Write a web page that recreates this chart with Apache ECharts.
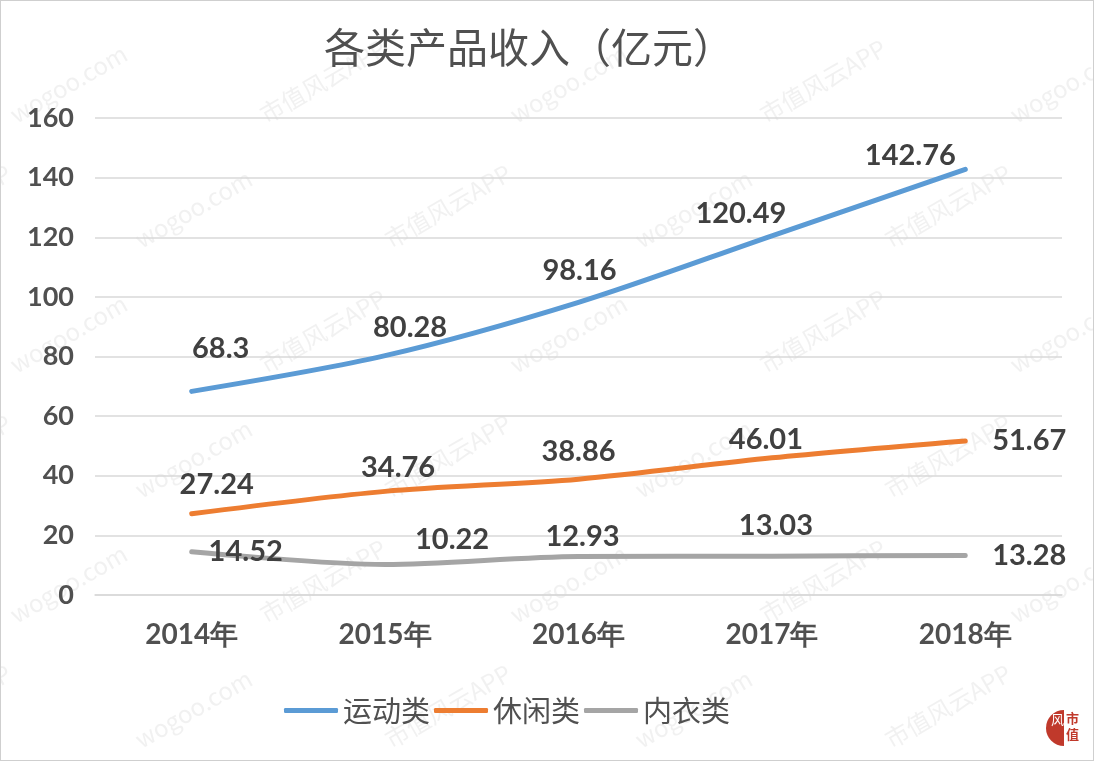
<!DOCTYPE html>
<html><head><meta charset="utf-8">
<script src="https://cdn.jsdelivr.net/npm/echarts@6/dist/echarts.min.js"></script>
<style>html,body{margin:0;padding:0;background:#fff;}#c{width:1094px;height:761px;box-sizing:border-box;border:1px solid #cfcfcf;}</style>
</head><body><div id="c"></div>
<script>
const categories = ['2014年','2015年','2016年','2017年','2018年'];
const sportValues = [68.3, 80.28, 98.16, 120.49, 142.76];
const leisureValues = [27.24, 34.76, 38.86, 46.01, 51.67];
const underwearValues = [14.52, 10.22, 12.93, 13.03, 13.28];
const seriesNames = ['运动类','休闲类','内衣类'];
const titleText = '各类产品收入（亿元）';
const watermarkTexts = ['市值风云APP','wogoo.com'];

// label offsets (style only)
const sportOffsets = [[29,-43],[25,-28],[1,-32],[-31,-22],[-55,-14]];
const leisureOffsets = [[25,-29],[13,-24],[0,-28],[-6,-18],[64,0]];
const underOffsets = [[54,0],[67,-25],[4,-20],[4,-31],[64,0]];

const chart = echarts.init(document.getElementById('c'));
const labelFont = {fontFamily:'Lato', fontWeight:'bold', fontSize:29, color:'#404040'};
function mk(vals, offs){
  return vals.map((v,i)=>({value:v, label:{show:true, position:'inside', offset:offs[i], align:'center', verticalAlign:'middle', ...labelFont}}));
}
const colors = ['#5B9BD5','#ED7D31','#A5A5A5'];
function series(name, vals, offs, color){
  return {name, type:'line', data:mk(vals,offs), smooth:0.3, symbol:'circle', symbolSize:0, showSymbol:true,
    lineStyle:{width:5, color, cap:'round'}, itemStyle:{color}, z:3,
    label:{show:true}};
}
// faint diagonal watermark
const wm = [];
let r = 0;
for (let y = -20; y < 800; y += 125, r++) {
  let c = 0;
  for (let x = -120 + (r % 2) * 125; x < 1150; x += 250, c++) {
    const t = watermarkTexts[(c + r) % 2];
    wm.push({type:'text', x, y, rotation:Math.PI/6, z:0, silent:true,
      style:{text:t, font:'24px "Noto Sans CJK SC"', fill:'rgba(170,170,170,0.16)'}});
  }
}
wm.push({type:'group', right:14, bottom:14, z:10, children:[
  {type:'sector', shape:{cx:22, cy:18, r:18, startAngle:Math.PI/2, endAngle:Math.PI*1.5}, style:{fill:'#c0392b'}},
  {type:'text', x:9, y:3, style:{text:'风', font:'13px "Noto Sans CJK SC"', fill:'#fff'}},
  {type:'text', x:24, y:0, style:{text:'市\n值', font:'bold 13px "Noto Sans CJK SC"', fill:'#c0392b', lineHeight:16}}
]});

chart.setOption({
  animation:false,
  graphic: wm,
  title:{text:titleText, left:318, top:21, textStyle:{fontFamily:'Noto Sans CJK SC', fontWeight:'normal', fontSize:41, color:'#505050'}},
  grid:{left:94, right:31, top:117, bottom:165, containLabel:false},
  legend:{bottom:30, left:278, icon:'roundRect', itemWidth:54, itemHeight:5, itemGap:4,
    textStyle:{fontFamily:'Noto Sans CJK SC', fontSize:29, color:'#505050'}, data:seriesNames},
  xAxis:{type:'category', data:categories, boundaryGap:true,
    axisLine:{show:true, lineStyle:{color:'#d9d9d9', width:1.5}}, axisTick:{show:false},
    axisLabel:{margin:26, fontFamily:'Lato', fontWeight:'bold', fontSize:28, color:'#505050'}},
  yAxis:{type:'value', min:0, max:160, interval:20,
    axisLine:{show:false}, axisTick:{show:false},
    splitLine:{lineStyle:{color:'#d9d9d9', width:1.5}},
    axisLabel:{margin:21, fontFamily:'Lato', fontWeight:'bold', fontSize:27, color:'#505050'}},
  series:[
    series(seriesNames[0], sportValues, sportOffsets, colors[0]),
    series(seriesNames[1], leisureValues, leisureOffsets, colors[1]),
    series(seriesNames[2], underwearValues, underOffsets, colors[2])
  ]
});
</script></body></html>
